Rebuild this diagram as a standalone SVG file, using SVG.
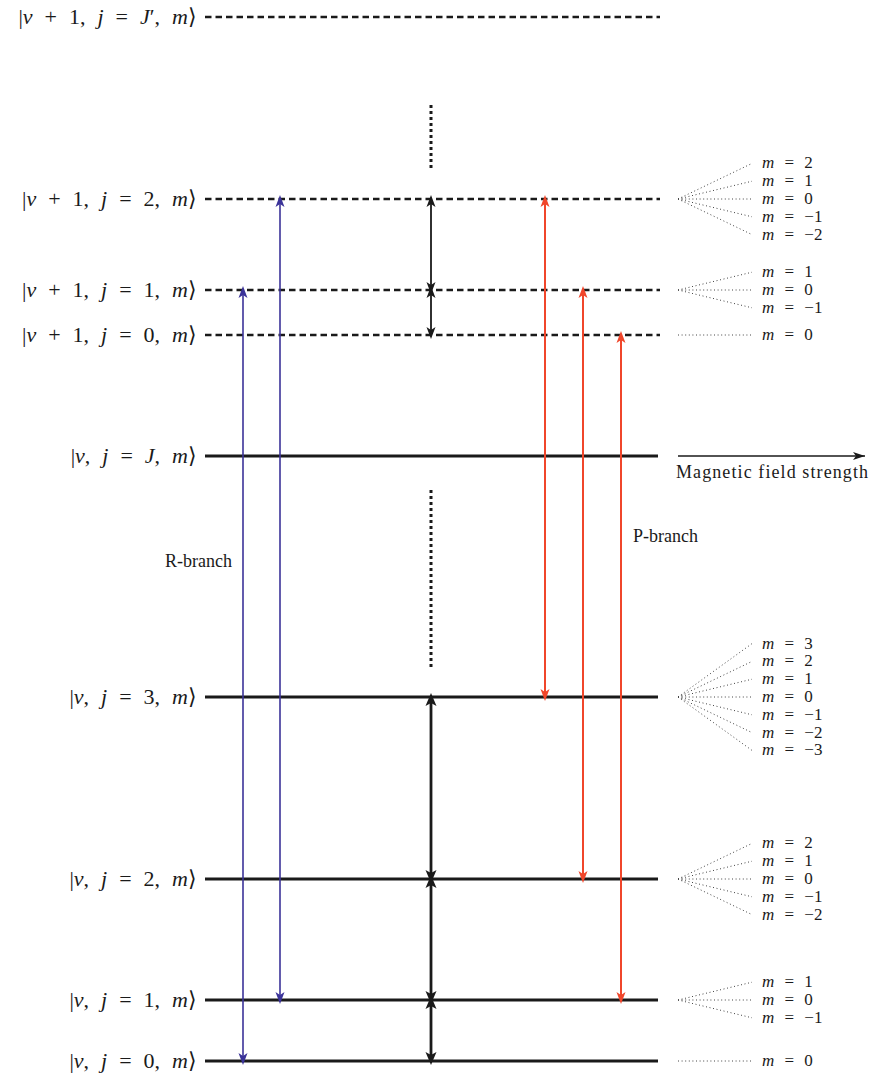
<svg xmlns="http://www.w3.org/2000/svg" width="872" height="1074" viewBox="0 0 872 1074" font-family="'Liberation Serif', 'Times New Roman', serif">
<style>
.lbl{font-family:'Liberation Serif','Times New Roman',serif;font-size:22px;word-spacing:6.5px;fill:#1a1a1a}
.it{font-style:italic}
.m{font-family:'Liberation Serif','Times New Roman',serif;font-size:17px;word-spacing:6px;fill:#1a1a1a}
.txt{font-family:'Liberation Serif','Times New Roman',serif;font-size:18px;fill:#1a1a1a}
.dash{stroke:#1a1a1a;stroke-width:2.6;stroke-dasharray:6.5 4;fill:none}
.solid{stroke:#1a1a1a;stroke-width:2.8;fill:none}
.dots{stroke:#1a1a1a;stroke-width:3;stroke-dasharray:3 3;fill:none}
.fan{stroke:#444;stroke-width:1;stroke-dasharray:1 2.6;fill:none}
.ab{stroke:#1a1a1a;stroke-width:1.8;fill:none}
.abt{stroke:#1a1a1a;stroke-width:2.8;fill:none}
.blue{stroke:#3b3399;stroke-width:1.6;fill:none}
.red{stroke:#f0462b;stroke-width:2;fill:none}
</style>
<defs>
<marker id="hk" markerUnits="userSpaceOnUse" viewBox="-16 -6 18 12" refX="-4" refY="0" markerWidth="18" markerHeight="12" orient="auto-start-reverse" overflow="visible">
<path d="M0,0 L-12,-4.5 L-9,0 L-12,4.5 Z" fill="#1a1a1a"/>
</marker>
<marker id="hkt" markerUnits="userSpaceOnUse" viewBox="-16 -6 18 12" refX="-4" refY="0" markerWidth="18" markerHeight="12" orient="auto-start-reverse" overflow="visible">
<path d="M0,0 L-13,-5.5 L-10,0 L-13,5.5 Z" fill="#1a1a1a"/>
</marker>
<marker id="hb" markerUnits="userSpaceOnUse" viewBox="-16 -6 18 12" refX="-4" refY="0" markerWidth="18" markerHeight="12" orient="auto-start-reverse" overflow="visible">
<path d="M0,0 L-12,-4.5 L-9,0 L-12,4.5 Z" fill="#3b3399"/>
</marker>
<marker id="hr" markerUnits="userSpaceOnUse" viewBox="-16 -6 18 12" refX="-4" refY="0" markerWidth="18" markerHeight="12" orient="auto-start-reverse" overflow="visible">
<path d="M0,0 L-12,-4.5 L-9,0 L-12,4.5 Z" fill="#f0462b"/>
</marker>
<marker id="hf" markerUnits="userSpaceOnUse" viewBox="-16 -6 18 12" refX="0" refY="0" markerWidth="18" markerHeight="12" orient="auto" overflow="visible">
<path d="M0,0 L-12,-4 L-9,0 L-12,4 Z" fill="#1a1a1a"/>
</marker>
</defs>

<g id="level-upper-Jp">
<line class="dash" x1="205" y1="17" x2="660" y2="17"/>
<text class="lbl" x="197" y="24" text-anchor="end">|<tspan class="it">ν</tspan> + 1, <tspan class="it">j</tspan> = <tspan class="it">J</tspan>′, <tspan class="it">m</tspan>⟩</text>
</g>
<g id="level-upper-2">
<line class="dash" x1="205" y1="199" x2="660" y2="199"/>
<text class="lbl" x="197" y="206" text-anchor="end">|<tspan class="it">ν</tspan> + 1, <tspan class="it">j</tspan> = 2, <tspan class="it">m</tspan>⟩</text>
</g>
<g id="level-upper-1">
<line class="dash" x1="205" y1="290" x2="660" y2="290"/>
<text class="lbl" x="197" y="297" text-anchor="end">|<tspan class="it">ν</tspan> + 1, <tspan class="it">j</tspan> = 1, <tspan class="it">m</tspan>⟩</text>
</g>
<g id="level-upper-0">
<line class="dash" x1="205" y1="335" x2="660" y2="335"/>
<text class="lbl" x="197" y="342" text-anchor="end">|<tspan class="it">ν</tspan> + 1, <tspan class="it">j</tspan> = 0, <tspan class="it">m</tspan>⟩</text>
</g>
<g id="level-lower-J">
<line class="solid" x1="205" y1="456" x2="658" y2="456"/>
<text class="lbl" x="197" y="463" text-anchor="end">|<tspan class="it">ν</tspan>, <tspan class="it">j</tspan> = <tspan class="it">J</tspan>, <tspan class="it">m</tspan>⟩</text>
</g>
<g id="level-lower-3">
<line class="solid" x1="205" y1="697" x2="658" y2="697"/>
<text class="lbl" x="197" y="704" text-anchor="end">|<tspan class="it">ν</tspan>, <tspan class="it">j</tspan> = 3, <tspan class="it">m</tspan>⟩</text>
</g>
<g id="level-lower-2">
<line class="solid" x1="205" y1="879" x2="658" y2="879"/>
<text class="lbl" x="197" y="886" text-anchor="end">|<tspan class="it">ν</tspan>, <tspan class="it">j</tspan> = 2, <tspan class="it">m</tspan>⟩</text>
</g>
<g id="level-lower-1">
<line class="solid" x1="205" y1="1000" x2="658" y2="1000"/>
<text class="lbl" x="197" y="1007" text-anchor="end">|<tspan class="it">ν</tspan>, <tspan class="it">j</tspan> = 1, <tspan class="it">m</tspan>⟩</text>
</g>
<g id="level-lower-0">
<line class="solid" x1="205" y1="1061" x2="658" y2="1061"/>
<text class="lbl" x="197" y="1068" text-anchor="end">|<tspan class="it">ν</tspan>, <tspan class="it">j</tspan> = 0, <tspan class="it">m</tspan>⟩</text>
</g>

<g id="ellipsis">
<line class="dots" x1="431" y1="105" x2="431" y2="170"/>
<line class="dots" x1="431" y1="490" x2="431" y2="668"/>
</g>

<g id="connectors">
<line class="ab" x1="431" y1="199" x2="431" y2="290" marker-start="url(#hk)" marker-end="url(#hk)"/>
<line class="ab" x1="431" y1="290" x2="431" y2="335" marker-start="url(#hk)" marker-end="url(#hk)"/>
<line class="abt" x1="431" y1="697" x2="431" y2="879" marker-start="url(#hkt)" marker-end="url(#hkt)"/>
<line class="abt" x1="431" y1="879" x2="431" y2="1000" marker-start="url(#hkt)" marker-end="url(#hkt)"/>
<line class="abt" x1="431" y1="1000" x2="431" y2="1061" marker-start="url(#hkt)" marker-end="url(#hkt)"/>
<line class="blue" x1="243" y1="290" x2="243" y2="1061" marker-start="url(#hb)" marker-end="url(#hb)"/>
<line class="blue" x1="280" y1="199" x2="280" y2="1000" marker-start="url(#hb)" marker-end="url(#hb)"/>
<line class="red" x1="545" y1="199" x2="545" y2="697" marker-start="url(#hr)" marker-end="url(#hr)"/>
<line class="red" x1="583" y1="290" x2="583" y2="879" marker-start="url(#hr)" marker-end="url(#hr)"/>
<line class="red" x1="621" y1="335" x2="621" y2="1000" marker-start="url(#hr)" marker-end="url(#hr)"/>
<line stroke="#1a1a1a" stroke-width="1.3" x1="678" y1="456" x2="865" y2="456" marker-end="url(#hf)"/>
</g>

<g id="branch-labels">
<text class="txt" x="165" y="567">R-branch</text>
<text class="txt" x="633" y="542">P-branch</text>
<text class="txt" x="676" y="478" textLength="192" lengthAdjust="spacing">Magnetic field strength</text>
</g>

<g id="fan-upper-2">
<path class="fan" d="M678,199 L752,163.4 M678,199 L752,181.2 M678,199 L752,199 M678,199 L752,216.8 M678,199 L752,234.6"/>
<text class="m" x="762" y="168.4"><tspan class="it">m</tspan> = 2</text>
<text class="m" x="762" y="186.2"><tspan class="it">m</tspan> = 1</text>
<text class="m" x="762" y="204"><tspan class="it">m</tspan> = 0</text>
<text class="m" x="762" y="221.8"><tspan class="it">m</tspan> = −1</text>
<text class="m" x="762" y="239.6"><tspan class="it">m</tspan> = −2</text>
</g>
<g id="fan-upper-1">
<path class="fan" d="M678,290 L752,272.2 M678,290 L752,290 M678,290 L752,307.8"/>
<text class="m" x="762" y="277.2"><tspan class="it">m</tspan> = 1</text>
<text class="m" x="762" y="295"><tspan class="it">m</tspan> = 0</text>
<text class="m" x="762" y="312.8"><tspan class="it">m</tspan> = −1</text>
</g>
<g id="fan-upper-0">
<path class="fan" d="M678,335 L752,335"/>
<text class="m" x="762" y="340"><tspan class="it">m</tspan> = 0</text>
</g>
<g id="fan-lower-3">
<path class="fan" d="M678,697 L752,643.6 M678,697 L752,661.4 M678,697 L752,679.2 M678,697 L752,697 M678,697 L752,714.8 M678,697 L752,732.6 M678,697 L752,750.4"/>
<text class="m" x="762" y="648.6"><tspan class="it">m</tspan> = 3</text>
<text class="m" x="762" y="666.4"><tspan class="it">m</tspan> = 2</text>
<text class="m" x="762" y="684.2"><tspan class="it">m</tspan> = 1</text>
<text class="m" x="762" y="702"><tspan class="it">m</tspan> = 0</text>
<text class="m" x="762" y="719.8"><tspan class="it">m</tspan> = −1</text>
<text class="m" x="762" y="737.6"><tspan class="it">m</tspan> = −2</text>
<text class="m" x="762" y="755.4"><tspan class="it">m</tspan> = −3</text>
</g>
<g id="fan-lower-2">
<path class="fan" d="M678,879 L752,843.4 M678,879 L752,861.2 M678,879 L752,879 M678,879 L752,896.8 M678,879 L752,914.6"/>
<text class="m" x="762" y="848.4"><tspan class="it">m</tspan> = 2</text>
<text class="m" x="762" y="866.2"><tspan class="it">m</tspan> = 1</text>
<text class="m" x="762" y="884"><tspan class="it">m</tspan> = 0</text>
<text class="m" x="762" y="901.8"><tspan class="it">m</tspan> = −1</text>
<text class="m" x="762" y="919.6"><tspan class="it">m</tspan> = −2</text>
</g>
<g id="fan-lower-1">
<path class="fan" d="M678,1000 L752,982.2 M678,1000 L752,1000 M678,1000 L752,1017.8"/>
<text class="m" x="762" y="987.2"><tspan class="it">m</tspan> = 1</text>
<text class="m" x="762" y="1005"><tspan class="it">m</tspan> = 0</text>
<text class="m" x="762" y="1022.8"><tspan class="it">m</tspan> = −1</text>
</g>
<g id="fan-lower-0">
<path class="fan" d="M678,1061 L752,1061"/>
<text class="m" x="762" y="1066"><tspan class="it">m</tspan> = 0</text>
</g>
</svg>
